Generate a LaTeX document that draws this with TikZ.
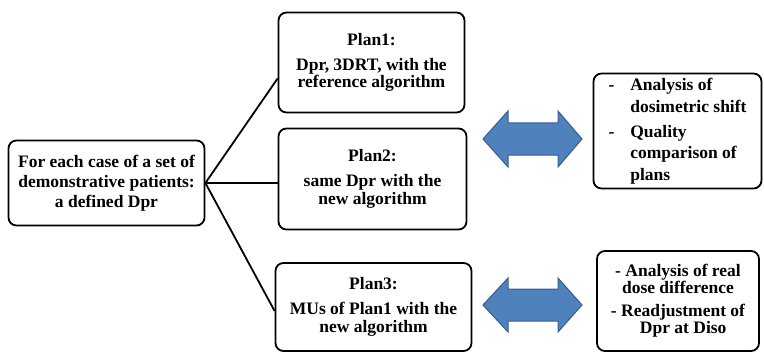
\documentclass[tikz,border=0pt]{standalone}
\usepackage{fontspec}
\setmainfont{Liberation Serif}
\begin{document}
\begin{tikzpicture}[x=1pt,y=-1pt,
  box/.style={draw=black,line width=1.8pt,rounded corners=8pt,fill=white,align=center,inner sep=2pt,
    font=\bfseries\fontsize{17.5}{17.6}\selectfont},
  conn/.style={line width=1.8pt,black},
  bigarrow/.style={fill=arrowblue,draw=arrowedge,line width=1pt}]
\definecolor{arrowblue}{RGB}{79,129,189}
\definecolor{arrowedge}{RGB}{56,93,138}
\useasboundingbox (0,0) rectangle (764,353);
\node[box,minimum width=196pt,minimum height=85pt,font=\bfseries\fontsize{17.5}{20}\selectfont] (l) at (106.5,183)
  {For each case of a set of\\demonstrative patients:\\a defined Dpr};
\node[box,minimum width=186pt,minimum height=100pt] (p1) at (371.5,62.5)
  {Plan1:\\[7.4pt]Dpr, 3DRT, with the\\reference algorithm};
\node[box,minimum width=188pt,minimum height=101pt] (p2) at (372.5,179)
  {Plan2:\\[7.4pt]same Dpr with the\\new algorithm};
\node[box,minimum width=196pt,minimum height=88pt] (p3) at (373.5,307)
  {Plan3:\\[7.4pt]MUs of Plan1 with the\\new algorithm};
\node[box,minimum width=168pt,minimum height=108pt,align=left,font=\bfseries\fontsize{17.5}{21.5}\selectfont] (r1) at (677.5,131)
  {\begin{tabular}{@{}l@{\hspace{16pt}}l@{}}
   - & Analysis of\\ & dosimetric shift\\[3.5pt]
   - & Quality\\ & comparison of\\ & plans\end{tabular}};
\node[box,minimum width=162pt,minimum height=100pt,font=\bfseries\fontsize{17.5}{17}\selectfont] (r2) at (678,301)
  {- Analysis of real\\dose difference\\[6pt]- Readjustment of\\\hspace*{0.6em}Dpr at Diso};
\draw[conn] (l.east) -- ([yshift=-16pt]p1.west);
\draw[conn] (l.east) -- (l.east -| p2.west);
\draw[conn] (l.east) -- ([yshift=-4pt]p3.west);
\draw[bigarrow] (483,139) -- (508,111) -- (508,123) -- (558,123) -- (558,111) -- (582,139)
  -- (558,167) -- (558,155) -- (508,155) -- (508,167) -- cycle;
\draw[bigarrow] (483,305) -- (508,278) -- (508,289) -- (558,289) -- (558,278) -- (582,305)
  -- (558,332) -- (558,321) -- (508,321) -- (508,332) -- cycle;
\end{tikzpicture}
\end{document}
